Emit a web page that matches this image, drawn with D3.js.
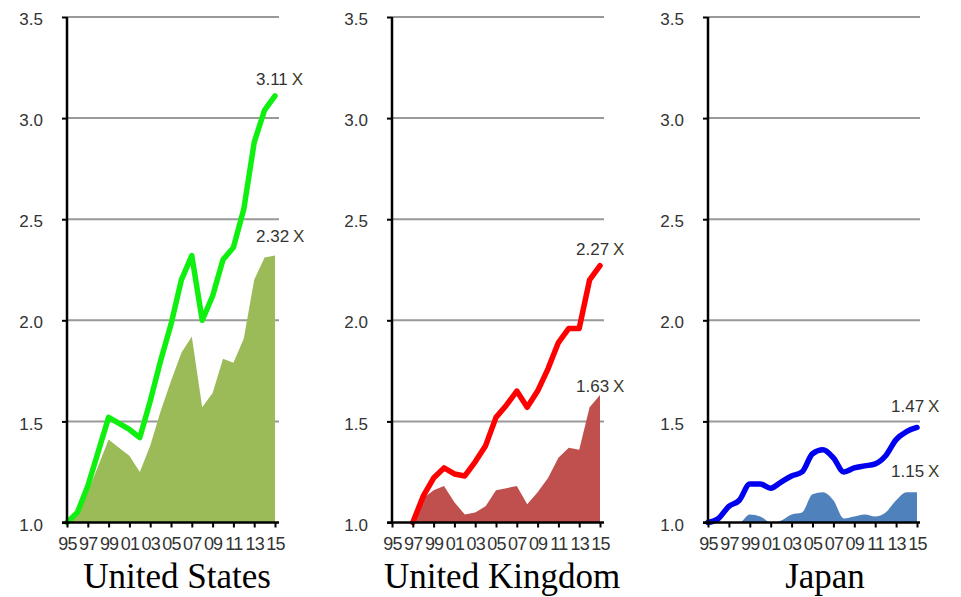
<!DOCTYPE html>
<html>
<head>
<meta charset="utf-8">
<script src="https://d3js.org/d3.v7.min.js"></script>
<style>
  body { margin: 0; background: #fff; }
  .ylab { font-family: "Liberation Sans", Arial, sans-serif; font-size: 17px; fill: #333; }
  .xlab { font-family: "Liberation Sans Narrow", "Arial Narrow", sans-serif; font-size: 18px; fill: #333; letter-spacing: -0.8px; }
  .note { font-family: "Liberation Sans", Arial, sans-serif; font-size: 17px; fill: #333; }
  .title { font-family: "Liberation Serif", "Times New Roman", serif; font-size: 35px; fill: #000; }
</style>
</head>
<body>
<script>
const years = [1995,1996,1997,1998,1999,2000,2001,2002,2003,2004,2005,2006,2007,2008,2009,2010,2011,2012,2013,2014,2015];
const yTicks = [1.0, 1.5, 2.0, 2.5, 3.0, 3.5];
const xTickYears = [1995,1997,1999,2001,2003,2005,2007,2009,2011,2013,2015];

const usLine = [1.00,1.05,1.18,1.35,1.52,1.49,1.46,1.42,1.60,1.80,1.98,2.20,2.32,2.00,2.12,2.30,2.36,2.55,2.88,3.04,3.11];
const usArea = [1.00,1.04,1.15,1.28,1.41,1.37,1.33,1.25,1.38,1.55,1.70,1.84,1.92,1.57,1.64,1.81,1.79,1.91,2.20,2.31,2.32];

const ukLine = [null,null,1.00,1.13,1.22,1.27,1.24,1.23,1.30,1.38,1.52,1.58,1.65,1.57,1.65,1.76,1.89,1.96,1.96,2.20,2.27];
const ukArea = [null,null,1.00,1.12,1.16,1.18,1.10,1.04,1.05,1.08,1.16,1.17,1.18,1.09,1.15,1.22,1.32,1.37,1.36,1.57,1.63];

const jpLine = [1.00,1.02,1.08,1.11,1.19,1.19,1.17,1.20,1.23,1.25,1.34,1.36,1.32,1.25,1.27,1.28,1.29,1.33,1.41,1.45,1.47];
const jpArea = [1.00,1.00,1.00,1.00,1.04,1.03,1.00,1.01,1.04,1.05,1.14,1.15,1.11,1.02,1.03,1.04,1.03,1.05,1.11,1.15,1.15];

const countries = ["United States", "United Kingdom", "Japan"];
const lineLabels = ["3.11", "2.27", "1.47"];
const areaLabels = ["2.32", "1.63", "1.15"];

const width = 961, height = 597;

const svg = d3.select("body").append("svg")
  .attr("width", width)
  .attr("height", height);

// layout of each small panel (pixels)
const panels = [
  {name: countries[0], line: usLine, area: usArea, left: 67,  right: 275, gridEnd: 279,
   lineColor: "#10f010", areaColor: "#9bbb59", curve: d3.curveLinear,
   lineLab: lineLabels[0], areaLab: areaLabels[0], labX: 256, lineDy: -11, areaDy: -14, titleX: 177},
  {name: countries[1], line: ukLine, area: ukArea, left: 392, right: 600, gridEnd: 604,
   lineColor: "#ff0000", areaColor: "#c0504d", curve: d3.curveLinear,
   lineLab: lineLabels[1], areaLab: areaLabels[1], labX: 576, lineDy: -11, areaDy: -3, titleX: 502},
  {name: countries[2], line: jpLine, area: jpArea, left: 708, right: 917, gridEnd: 920,
   lineColor: "#0000f0", areaColor: "#4f81bd", curve: d3.curveMonotoneX,
   lineLab: lineLabels[2], areaLab: areaLabels[2], labX: 891, lineDy: -15, areaDy: -15, titleX: 825}
];

const scaleY = d3.scaleLinear()
  .domain([1.0, 3.5])
  .range([522.5, 17]);

panels.forEach(p => smallChart(p));

function smallChart(p) {
  const scaleX = d3.scaleLinear()
    .domain([1995, 2015])
    .range([p.left, p.right]);

  const g = svg.append("g").attr("class", "panel");

  // gridlines
  g.selectAll(".grid")
    .data(yTicks.slice(1))
    .enter().append("line")
    .attr("class", "grid")
    .attr("x1", p.left)
    .attr("x2", p.gridEnd)
    .attr("y1", d => scaleY(d))
    .attr("y2", d => scaleY(d))
    .style("stroke", "#999")
    .style("stroke-width", 2);

  const rows = years.map((y, i) => ({year: y, line: p.line[i], area: p.area[i]}));

  const area = d3.area()
    .defined(d => d.area != null)
    .curve(p.curve)
    .x(d => scaleX(d.year))
    .y0(scaleY(1.0))
    .y1(d => scaleY(d.area));

  g.append("path")
    .datum(rows)
    .attr("d", area)
    .style("fill", p.areaColor);

  const line = d3.line()
    .defined(d => d.line != null)
    .curve(p.curve)
    .x(d => scaleX(d.year))
    .y(d => scaleY(d.line));

  g.append("path")
    .datum(rows)
    .attr("d", line)
    .style("fill", "none")
    .style("stroke", p.lineColor)
    .style("stroke-width", 5.5)
    .style("stroke-linejoin", "round")
    .style("stroke-linecap", "round");

  // y axis
  const yAxis = d3.axisLeft(scaleY)
    .tickValues(yTicks)
    .tickSize(5)
    .tickPadding(19)
    .tickFormat(d3.format(".1f"));

  const ya = g.append("g")
    .attr("class", "y axis")
    .attr("transform", `translate(${p.left},0)`)
    .call(yAxis);
  ya.select(".domain").remove();
  ya.selectAll("line").style("stroke", "#000").style("stroke-width", 2);
  ya.selectAll("text").attr("class", "ylab").attr("dy", "0.45em");
  ya.append("line")
    .attr("y1", scaleY(3.5))
    .attr("y2", scaleY(1.0))
    .style("stroke", "#000")
    .style("stroke-width", 2.5);

  // x axis
  const xAxis = d3.axisBottom(scaleX)
    .tickValues(xTickYears)
    .tickSize(5)
    .tickPadding(10)
    .tickFormat(d => String(d).slice(2));

  const xa = g.append("g")
    .attr("class", "x axis")
    .attr("transform", `translate(0,${scaleY(1.0)})`)
    .call(xAxis);
  xa.select(".domain").remove();
  xa.selectAll("line").style("stroke", "#000").style("stroke-width", 2);
  xa.selectAll("text").attr("class", "xlab").attr("dy", "0.71em");
  xa.append("line")
    .attr("x1", p.left - 5)
    .attr("x2", p.gridEnd)
    .style("stroke", "#000")
    .style("stroke-width", 2.5);

  // end labels
  const last = years.length - 1;
  const notes = [
    {text: p.lineLab, y: scaleY(p.line[last]) + p.lineDy},
    {text: p.areaLab, y: scaleY(p.area[last]) + p.areaDy}
  ];
  const note = g.selectAll(".note")
    .data(notes)
    .enter().append("text")
    .attr("class", "note")
    .attr("x", p.labX)
    .attr("y", d => d.y);
  note.append("tspan").text(d => d.text);
  note.append("tspan")
    .attr("dx", 4)
    .style("fill", "#3c3c28")
    .text("X");

  g.append("text")
    .attr("class", "title")
    .attr("x", p.titleX)
    .attr("y", 588)
    .style("text-anchor", "middle")
    .text(p.name);
}
</script>
</body>
</html>
